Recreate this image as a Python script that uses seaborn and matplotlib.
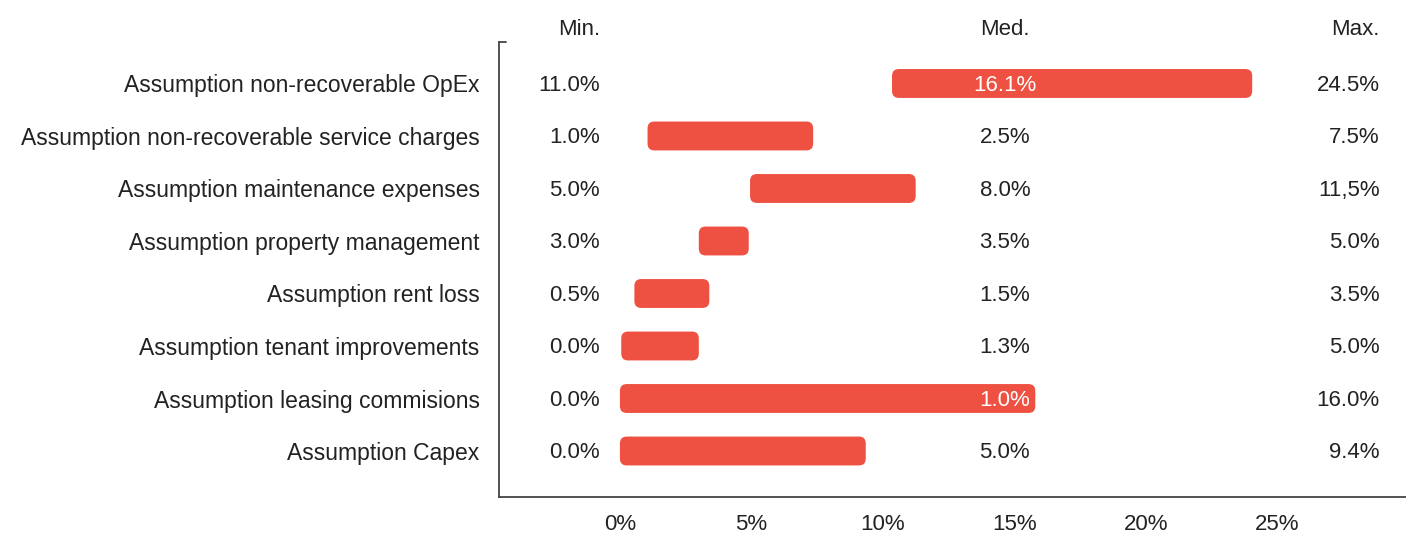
import matplotlib
matplotlib.use("Agg")
import matplotlib.pyplot as plt
import seaborn as sns
import pandas as pd
from matplotlib.patches import FancyBboxPatch

categories = [
    "Assumption non-recoverable OpEx",
    "Assumption non-recoverable service charges",
    "Assumption maintenance expenses",
    "Assumption property management",
    "Assumption rent loss",
    "Assumption tenant improvements",
    "Assumption leasing commisions",
    "Assumption Capex",
]
bar_start = [10.35, 1.05, 4.95, 3.0, 0.55, 0.05, 0.0, 0.0]
bar_end = [24.05, 7.35, 11.25, 4.9, 3.4, 3.0, 15.8, 9.35]
min_labels = ["11.0%", "1.0%", "5.0%", "3.0%", "0.5%", "0.0%", "0.0%", "0.0%"]
med_labels = ["16.1%", "2.5%", "8.0%", "3.5%", "1.5%", "1.3%", "1.0%", "5.0%"]
max_labels = ["24.5%", "7.5%", "11,5%", "5.0%", "3.5%", "5.0%", "16.0%", "9.4%"]
xticks = [0, 5, 10, 15, 20, 25]
xtick_labels = ["0%", "5%", "10%", "15%", "20%", "25%"]

BAR = "#EE5041"
TXT = "#222222"
FS = 16
sns.set_style("white")
plt.rcParams["font.family"] = ["Liberation Sans", "DejaVu Sans"]

df = pd.DataFrame({"cat": categories, "end": bar_end, "start": bar_start})

fig = plt.figure(figsize=(14.06, 5.34), dpi=100)
ax = fig.add_axes([499 / 1406, 37 / 534, 907 / 1406, 455 / 534])
sns.barplot(data=df, x="end", y="cat", orient="h", color=BAR, width=0.55, ax=ax)

# replace default rectangles with rounded range bars
patches = list(ax.patches)
for p, s, e in zip(patches, bar_start, bar_end):
    y, h = p.get_y(), p.get_height()
    p.remove()
    fb = FancyBboxPatch((s, y), e - s, h,
                        boxstyle="round,pad=0,rounding_size=0.26",
                        mutation_aspect=0.5, facecolor=BAR, edgecolor="none")
    ax.add_patch(fb)

x0, x1 = -4.6, 29.9
ax.set_xlim(x0, x1)
ax.set_ylim(7.876, -0.79)

min_x, med_x, max_x = -0.76, 14.64, 28.9
for i in range(len(categories)):
    ax.text(min_x, i + 0.03, min_labels[i], ha="right", va="center", fontsize=FS, color=TXT)
    inside = bar_start[i] <= med_x <= bar_end[i]
    ax.text(med_x, i + 0.03, med_labels[i], ha="center", va="center", fontsize=FS,
            color="white" if inside else TXT)
    ax.text(max_x, i + 0.03, max_labels[i], ha="right", va="center", fontsize=FS, color=TXT)

hy = -1.03
ax.text(-1.55, hy, "Min.", ha="center", va="center", fontsize=FS, color=TXT, clip_on=False)
ax.text(med_x, hy, "Med.", ha="center", va="center", fontsize=FS, color=TXT, clip_on=False)
ax.text(max_x, hy, "Max.", ha="right", va="center", fontsize=FS, color=TXT, clip_on=False)

ax.set_xticks(xticks)
ax.set_xticklabels(xtick_labels)
ax.tick_params(axis="x", length=0, pad=12, labelsize=FS, labelcolor=TXT)
ax.tick_params(axis="y", length=0, pad=14, labelsize=16.5, labelcolor=TXT)
ax.set_xlabel("")
ax.set_ylabel("")

for side in ["top", "right"]:
    ax.spines[side].set_visible(False)
for side in ["left", "bottom"]:
    ax.spines[side].set_color("#444444")
    ax.spines[side].set_linewidth(1.3)
ax.plot([0, 0.008], [1, 1], transform=ax.transAxes, color="#444444", lw=1.3, clip_on=False)

fig.savefig("out.png", dpi=100)
